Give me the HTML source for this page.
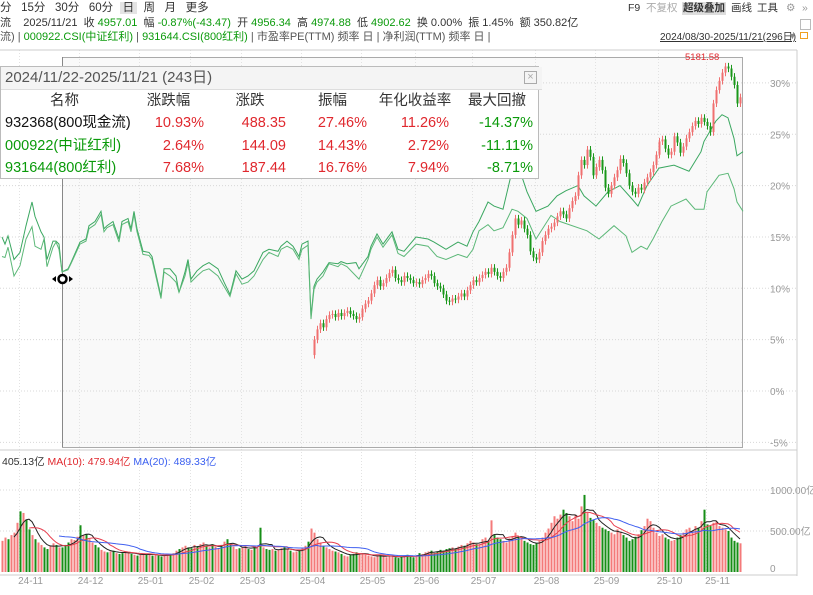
<!DOCTYPE html>
<html><head><meta charset="utf-8">
<style>
body{margin:0;background:#fff;font-family:"Liberation Sans","Noto Sans CJK SC",sans-serif;}
#wrap{position:relative;width:813px;height:595px;overflow:hidden;background:#fff}
.t{position:absolute;white-space:nowrap;font-size:11px;color:#333;line-height:13px}
.g{color:#0a9a0a}.r{color:#e0282e}
#tbl{position:absolute;left:0;top:66px;width:537px;height:111px;border:1px solid #bbb;background:#fff;font-size:14.5px}
#tbl .row{position:absolute;left:0;width:537px;height:22px;line-height:22px}
#tbl .c{position:absolute;top:0;text-align:right}
.tm{position:absolute;top:2px;font-size:10.5px;line-height:13px;white-space:nowrap;color:#333}
</style></head><body>
<div id="wrap">
<svg id="svg" width="813" height="595" style="position:absolute;left:0;top:0"></svg>

<div class="t" style="left:0;top:2px;font-size:11.5px">
<span>分</span>&nbsp;&nbsp;
<span>15分</span>&nbsp;&nbsp;
<span>30分</span>&nbsp;&nbsp;
<span>60分</span>&nbsp;
<span style="background:#e4e4e4;padding:0 3px">日</span>&nbsp;
<span>周</span>&nbsp;&nbsp;
<span>月</span>&nbsp;&nbsp;
<span>更多</span></div>
<span class="tm" style="left:628px">F9</span>
<span class="tm" style="left:646px;color:#aaa">不复权</span>
<span class="tm" style="left:682px;background:#ddd;font-weight:bold;padding:0 1px">超级叠加</span>
<span class="tm" style="left:731px">画线</span>
<span class="tm" style="left:757px">工具</span>
<span class="tm" style="left:786px;color:#999">⚙</span>
<span class="tm" style="left:802px;color:#999">»</span>
<div style="position:absolute;left:800px;top:19px;width:9px;height:9px;border:1px solid #bbb"></div>
<div style="position:absolute;left:800px;top:32px;width:6px;height:5px;border:1.5px solid #f0a020"></div>

<div class="t" style="left:0;top:17px">流&nbsp;&nbsp;&nbsp;&nbsp;2025/11/21&nbsp; 收 <span class="g">4957.01</span>&nbsp; 幅 <span class="g">-0.87%(-43.47)</span>&nbsp; 开 <span class="g">4956.34</span>&nbsp; 高 <span class="g">4974.88</span>&nbsp; 低 <span class="g">4902.62</span>&nbsp; 换 0.00%&nbsp; 振 1.45%&nbsp; 额 350.82亿</div>
<div class="t" style="left:0;top:31px;color:#555">流) | <span class="g">000922.CSI(中证红利)</span> | <span class="g">931644.CSI(800红利)</span> | 市盈率PE(TTM) 频率 日 | 净利润(TTM) 频率 日 |</div>
<div class="t" style="left:660px;top:31px;text-decoration:underline;color:#333;font-size:10px">2024/08/30-2025/11/21(296日)</div>
<div class="t" style="left:788px;top:30px;color:#888;font-size:9px">▼</div>

<div id="tbl">
 <div style="position:absolute;left:0;top:0;width:537px;height:22px;background:#f4f4f4;border-bottom:1px solid #ddd;color:#555;font-size:15px;line-height:22px;padding-left:4px">2024/11/22-2025/11/21 (243日)</div>
 <div style="position:absolute;left:523px;top:4px;width:11px;height:11px;border:1px solid #aaa;color:#aaa;font-size:11px;line-height:10px;text-align:center">×</div>
 <div class="row" style="top:23px;color:#333">
  <span class="c" style="left:0;width:127px;text-align:center">名称</span>
  <span class="c" style="left:127px;width:81px;text-align:center">涨跌幅</span>
  <span class="c" style="left:208px;width:82px;text-align:center">涨跌</span>
  <span class="c" style="left:290px;width:83px;text-align:center">振幅</span>
  <span class="c" style="left:373px;width:82px;text-align:center">年化收益率</span>
  <span class="c" style="left:455px;width:82px;text-align:center">最大回撤</span></div>
 <div class="row" style="top:45px">
  <span class="c" style="left:4px;text-align:left;color:#111">932368(800现金流)</span>
  <span class="c r" style="right:334px">10.93%</span><span class="c r" style="right:252px">488.35</span>
  <span class="c r" style="right:171px">27.46%</span><span class="c r" style="right:89px">11.26%</span>
  <span class="c g" style="right:5px">-14.37%</span></div>
 <div class="row" style="top:68px">
  <span class="c g" style="left:4px;text-align:left">000922(中证红利)</span>
  <span class="c r" style="right:334px">2.64%</span><span class="c r" style="right:252px">144.09</span>
  <span class="c r" style="right:171px">14.43%</span><span class="c r" style="right:89px">2.72%</span>
  <span class="c g" style="right:5px">-11.11%</span></div>
 <div class="row" style="top:90px">
  <span class="c g" style="left:4px;text-align:left">931644(800红利)</span>
  <span class="c r" style="right:334px">7.68%</span><span class="c r" style="right:252px">187.44</span>
  <span class="c r" style="right:171px">16.76%</span><span class="c r" style="right:89px">7.94%</span>
  <span class="c g" style="right:5px">-8.71%</span></div>
</div>

<div class="t" style="left:2px;top:456px;font-size:10.5px">405.13亿 <span style="color:#e0282e">MA(10): 479.94亿</span> <span style="color:#3a5ff0">MA(20): 489.33亿</span></div>
</div>

<script>
// ---- data ----
const pctTicks = [30,25,20,15,10,5,0,-5];
const volTicks = [1000,500,0];
const volTickLabels = ["1000.00亿","500.00亿","0"];
const monthLabels = ["24-11","24-12","25-01","25-02","25-03","25-04","25-05","25-06","25-07","25-08","25-09","25-10","25-11"];
const monthStartDays = [6,26,46,63,80,100,120,138,157,178,198,219,235];
const candleStartDay = 104;
const candleFirstOpen = 3.5;
const candleClose = [5.0,6.0,6.6,6.2,7.0,7.4,7.5,7.2,7.6,7.3,7.6,7.8,7.5,7.3,7.0,7.2,8.0,8.5,8.8,9.5,10.3,10.8,10.2,10.5,11.0,11.5,11.8,11.0,10.8,10.6,11.2,11.0,10.8,10.5,10.6,10.4,10.8,11.0,11.4,11.2,10.5,10.2,10.0,9.4,8.8,8.7,9.0,8.9,9.2,9.5,9.2,9.8,10.3,10.8,10.6,11.0,11.3,11.6,11.4,12.0,11.6,11.2,11.0,11.6,12.0,13.5,15.2,16.8,16.2,16.6,15.8,15.2,13.6,13.0,12.8,13.5,14.6,15.2,15.8,16.0,16.4,17.0,17.5,17.2,16.8,17.8,18.5,19.0,21.0,22.5,22.0,23.5,22.8,21.0,21.8,22.5,21.5,19.8,19.2,20.0,20.8,21.5,22.6,22.2,21.2,20.0,19.4,19.2,19.8,19.6,20.3,20.8,21.3,22.0,23.0,24.3,24.5,23.6,23.0,23.3,24.8,24.2,23.2,23.8,24.6,25.2,25.8,26.3,26.0,26.6,26.2,25.8,25.2,28.0,29.3,30.2,31.0,31.6,31.4,30.6,29.8,28.0,28.6];
const lineADays = [0,1,2,4,6,8,10,11,13,14,15,17,18,19,20,22,23,26,28,29,31,33,34,35,37,39,40,42,43,44,45,47,49,50,53,54,56,58,59,61,62,63,65,67,69,72,74,76,78,80,82,84,87,89,92,93,95,97,99,100,102,103,104,105,107,109,112,113,115,118,119,122,123,125,127,130,132,134,138,142,144,148,152,155,157,159,162,164,167,170,172,175,178,182,185,188,192,194,198,202,206,210,212,215,219,224,229,233,234,238,240,242,244,245,247];
const lineAValues = [15.0,14.3,15.1,12.8,13.5,16.1,18.4,17.0,15.5,15.0,12.8,14.6,14.6,14.3,11.6,11.9,12.5,14.5,14.8,16.1,16.5,17.5,15.8,16.1,16.5,14.8,16.5,16.8,15.8,17.5,15.8,13.6,13.5,13.1,9.2,11.9,11.9,11.2,9.6,11.6,12.8,10.9,11.7,12.2,12.5,11.9,10.6,9.4,11.7,10.9,11.2,11.7,13.5,13.8,13.6,14.1,14.6,14.1,13.1,14.3,14.6,7.3,10.2,10.9,11.6,12.5,12.4,12.6,12.4,12.5,11.9,13.1,14.1,15.3,14.3,15.5,13.8,13.6,15.0,14.8,14.5,13.8,14.5,14.1,15.5,16.5,18.4,18.0,17.7,21.4,22.0,19.4,17.5,18.0,19.0,19.5,20.0,19.0,18.0,19.4,20.0,18.7,18.0,20.0,21.7,22.0,21.4,23.3,24.3,26.3,26.9,26.6,24.6,22.9,23.3];
const lineBDays = [0,1,2,4,6,8,10,11,13,14,15,17,18,19,20,22,23,26,28,29,31,33,34,35,37,39,40,42,43,44,45,47,49,50,53,54,56,58,59,61,62,63,65,67,69,72,74,76,78,80,82,84,87,89,92,93,95,97,99,100,102,103,104,105,107,109,112,113,115,118,119,122,123,125,127,130,132,134,138,142,145,148,152,155,157,159,162,164,167,170,172,175,178,183,186,195,199,204,208,210,213,215,217,220,223,228,231,234,235,239,242,244,245,247];
const lineBValues = [13.1,13.0,14.0,11.2,12.2,14.8,16.0,14.1,13.8,14.8,12.1,14.0,14.5,13.8,11.6,11.8,12.4,14.3,14.6,15.8,16.2,17.2,15.5,15.9,16.2,14.5,16.2,16.5,15.5,17.2,15.5,13.3,13.2,12.8,9.0,11.6,11.2,10.6,9.6,11.2,12.5,10.6,11.2,11.7,11.9,11.2,10.2,9.2,11.4,10.4,10.6,11.2,12.8,13.5,13.1,13.8,14.1,13.8,12.8,13.8,14.2,7.0,9.9,10.6,11.2,12.4,12.1,12.4,12.1,11.2,10.9,12.8,13.8,15.0,14.0,15.2,13.4,13.1,14.3,14.1,13.1,12.8,13.3,13.0,13.8,15.6,16.2,15.6,15.9,17.7,17.5,16.8,14.8,17.1,16.5,15.6,14.8,16.1,15.1,13.5,14.1,13.8,14.8,16.5,18.0,18.7,17.7,17.7,19.4,21.0,21.2,19.7,18.4,17.5];
const volume = [380,420,400,450,480,600,740,720,640,520,450,400,360,330,300,280,320,350,330,300,300,330,360,400,390,430,570,450,460,400,360,330,300,270,250,240,250,260,230,220,230,250,240,220,210,200,210,230,220,210,200,210,200,190,200,210,220,230,260,280,300,320,300,290,330,310,340,360,320,300,340,310,290,330,370,400,340,310,280,290,300,320,280,270,310,290,540,300,280,270,280,260,270,290,300,280,260,240,250,270,290,320,370,530,480,400,360,320,300,280,260,250,240,220,200,190,210,220,240,230,220,210,200,190,180,200,210,190,180,200,190,180,170,190,200,210,190,180,200,230,220,240,250,260,230,250,270,260,280,290,300,280,310,330,320,350,380,360,340,330,400,420,380,630,450,420,400,380,360,410,440,480,430,400,380,360,340,330,350,380,420,480,530,600,680,650,700,760,720,680,620,700,650,800,940,720,660,640,600,560,540,520,500,480,460,520,480,450,420,380,400,430,460,510,560,650,620,540,480,440,460,420,400,380,390,420,450,480,520,540,500,560,540,620,760,580,560,600,620,560,540,520,500,420,380,360,350];
const earlyUp = "1101110100101100110100011101011001101010011010110101001101101100101101011010011011010101001011010110110101";

// ---- axes ----
const xOf = d => 3*d + 2;
const yOf = p => 391 - p*10.27;
const yV = v => 572 - v*0.082;
const NS = "http://www.w3.org/2000/svg";
const svg = document.getElementById('svg');
function mk(tag, attrs, parent){const e=document.createElementNS(NS,tag);for(const k in attrs)e.setAttribute(k,attrs[k]);(parent||svg).appendChild(e);return e;}

const area = mk('rect',{x:62.5,y:57.5,width:680,height:390,fill:'#f9f9f9',stroke:'#aaa','stroke-width':1});



pctTicks.forEach(p=>{
  const l=mk('line',{x1:0,x2:796,y1:yOf(p),y2:yOf(p),stroke:'#d8d8d8','stroke-dasharray':'1,2'});
  
  
  const t=mk('text',{x:770,y:yOf(p)+4,'font-size':10,fill:'#999','font-family':'Liberation Sans'});
  t.textContent=p+'%';
  
  
});
volTicks.forEach((v,i)=>{
  if(v>0){const l=mk('line',{x1:0,x2:796,y1:yV(v),y2:yV(v),stroke:'#d8d8d8','stroke-dasharray':'1,2'});
  
  }
  const t=mk('text',{x:770,y:yV(v)+(v>0?4:0),'font-size':10,fill:'#999','font-family':'Liberation Sans, Noto Sans CJK SC'});
  t.textContent=volTickLabels[i];
  
  
});
monthStartDays.forEach((d,i)=>{
  const x=xOf(d)-0.5;
  const l=mk('line',{x1:x,x2:x,y1:50,y2:575,stroke:'#e2e2e2','stroke-dasharray':'1,2'});
  
  
  const t=mk('text',{x:x+11,y:584,'font-size':10,fill:'#999','text-anchor':'middle','font-family':'Liberation Sans'});
  t.textContent=monthLabels[i];
  
  
});
[[0,797,50,50,'#ccc'],[797,797,50,576,'#ccc'],[0,797,450,450,'#ccc'],[0,797,575,575,'#ccc'],[62.5,62.5,57,447,'#888']].forEach(a=>{
  const l=mk('line',{x1:a[0],x2:a[1],y1:a[2],y2:a[3],stroke:a[4]});
  
  
});

function drawLine(days, vals, name, color){
  const pts=days.map((d,i)=>xOf(d)+','+yOf(vals[i]).toFixed(1)).join(' ');
  const p=mk('polyline',{points:pts,fill:'none',stroke:color,'stroke-width':1});
  
  
}
drawLine(lineADays,lineAValues,'line-000922','#3aa760');
drawLine(lineBDays,lineBValues,'line-931644','#5cb878');

const UP='#f07070', DN='#1a981a';
const candleUp=[];
candleClose.forEach((c,k)=>{
  const o = k===0?candleFirstOpen:candleClose[k-1];
  const up = c>=o; candleUp.push(up);
  const x=xOf(candleStartDay+k);
  const hi=Math.max(o,c)+0.35, lo=Math.min(o,c)-0.35;
  const w=mk('line',{x1:x+0.5,x2:x+0.5,y1:yOf(hi),y2:yOf(lo),stroke:up?UP:DN});
  
  
  const top=yOf(Math.max(o,c)), h=Math.max(1,yOf(Math.min(o,c))-top);
  const b=mk('rect',{x:x-0.5,y:top,width:2,height:h,fill:up?UP:DN});
  
  
});

volume.forEach((v,d)=>{
  let up;
  if(d>=candleStartDay) up=candleUp[d-candleStartDay]; else up=earlyUp[d]==='1';
  const r=mk('rect',{x:xOf(d)-0.5,y:yV(v),width:2,height:572-yV(v),fill:up?'#f47a7a':'#168e16'});
  
  
});
function ma(n,color,name){
  const pts=[];
  for(let d=n-1;d<volume.length;d++){let s=0;for(let j=0;j<n;j++)s+=volume[d-j];pts.push(xOf(d)+','+yV(s/n).toFixed(1));}
  const p=mk('polyline',{points:pts.join(' '),fill:'none',stroke:color,'stroke-width':1});
  
  
}
ma(5,'#222','volume-ma5');
ma(10,'#e84050','volume-ma10');
ma(20,'#4060f0','volume-ma20');

const ml=mk('text',{x:685,y:60,'font-size':9.5,fill:'#e0282e','font-family':'Liberation Sans'});
ml.textContent='5181.58';


const mkr=mk('g',{});


mk('circle',{cx:62.5,cy:279,r:4,fill:'#fff',stroke:'#000','stroke-width':2.5},mkr);
mk('path',{d:'M52 279 l4 -3 v6 z M73 279 l-4 -3 v6 z',fill:'#000'},mkr);
</script>
</body></html>
